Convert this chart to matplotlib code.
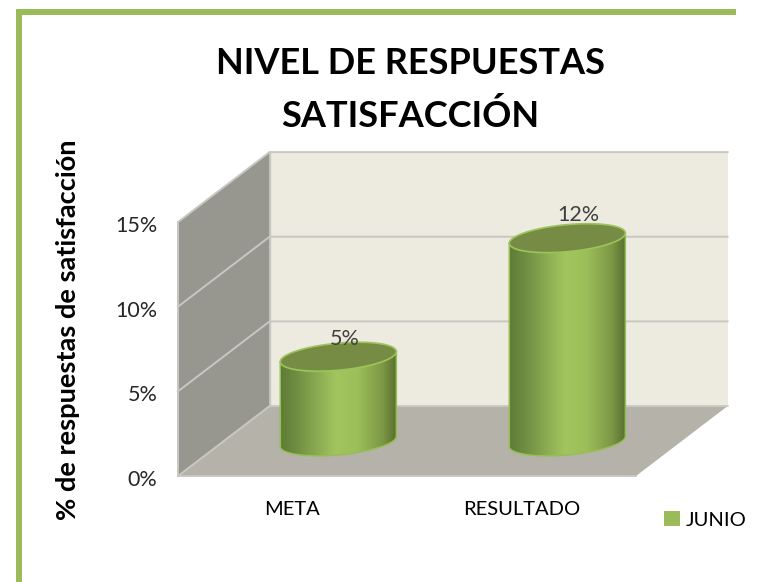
import numpy as np
import matplotlib
matplotlib.use('Agg')
import matplotlib.pyplot as plt
from matplotlib.colors import LinearSegmentedColormap
from matplotlib.patches import Polygon, Rectangle, Patch
from matplotlib.transforms import ScaledTranslation

plt.rcParams['font.family'] = ['Lato', 'DejaVu Sans']

categories = ['META', 'RESULTADO']
values = [5, 12]
value_labels = ['5%', '12%']
yticks = [0, 5, 10, 15]
ytick_labels = ['0%', '5%', '10%', '15%']
title = 'NIVEL DE RESPUESTAS\nSATISFACCIÓN'
ylabel = '% de respuestas de satisfacción'
series_name = 'JUNIO'

W, H = 763, 582
fig = plt.figure(figsize=(W/100, H/100), dpi=100, facecolor='white')

# frame of the slide, left and top only
for x0, y0, w, h in [(16, 0, 6, H-9), (16, H-15, 720, 6)]:
    fig.patches.append(Rectangle((x0/W, y0/H), w/W, h/H, transform=fig.transFigure,
                                 facecolor='#9bbb59', edgecolor='none'))

# axes is the front plane of the 3d box
ax = fig.add_axes([178/W, (H-476)/H, 458/W, 254/H])
ax.set_xlim(0, 2)
ax.set_ylim(0, 15)
ymax = 15
dx = 0.40    # depth of the box in data units
dy = 4.13

ax.add_patch(Polygon([(dx, dy), (2+dx, dy), (2+dx, ymax+dy), (dx, ymax+dy)], facecolor='#edebe0', edgecolor='none', clip_on=False, zorder=1))
ax.add_patch(Polygon([(0, 0), (dx, dy), (dx, ymax+dy), (0, ymax)], facecolor='#97978f', edgecolor='none', clip_on=False, zorder=1))
ax.add_patch(Polygon([(0, 0), (2, 0), (2+dx, dy), (dx, dy)], facecolor='#b5b2aa', edgecolor='none', clip_on=False, zorder=1))

for t in yticks:
    ax.plot([0, dx, 2+dx], [t, t+dy, t+dy], color='#c8c8c2', lw=1.4, clip_on=False, zorder=2)
ax.plot([0, 0], [0, ymax], color='#c8c8c2', lw=1.4, clip_on=False, zorder=2)
ax.plot([dx, dx], [dy, ymax+dy], color='#c8c8c2', lw=1.0, clip_on=False, zorder=2)
ax.plot([0, 2], [0, 0], color='#c8c8c2', lw=1.4, clip_on=False, zorder=2)

cyl = LinearSegmentedColormap.from_list('cyl', [(0, '#5f7c37'), (0.14, '#708e42'), (0.48, '#a2c55f'),
                                                (0.66, '#9dbf5a'), (0.88, '#7d9846'), (1, '#586f2f')])
grad = np.linspace(0, 1, 200).reshape(1, -1)
rx = 0.2535   # cylinder radius, x units
ry = 0.80     # ellipse half height
skew = 0.30   # tilt of the ellipse
t = np.linspace(0, 2*np.pi, 121)
label_lift = [0.45, 0.80]   # gap between bar top and its label

for i, v in enumerate(values):
    cx = i + 0.5 + dx/2
    y0 = dy/2 - 0.02
    ex = cx + rx*np.cos(t)
    ey = skew*np.cos(t) + ry*np.sin(t)
    # body = lower half of base + sides + top
    low = np.sin(t) <= 0
    order = np.argsort(ex[low])
    bx = ex[low][order]
    by = ey[low][order] + y0
    body_x = np.r_[bx, cx+rx, cx-rx]
    body_y = np.r_[by, y0+v+skew, y0+v-skew]
    body = Polygon(np.c_[body_x, body_y], facecolor='none', edgecolor='#97bd55', lw=1.1, clip_on=False, zorder=4)
    ax.add_patch(body)
    im = ax.imshow(grad, cmap=cyl, extent=[cx-rx, cx+rx, y0-1, y0+v+1], aspect='auto', zorder=3, clip_on=True)
    im.set_clip_path(body)
    ax.add_patch(Polygon(np.c_[ex, ey+y0+v], facecolor='#768c45', edgecolor='#9dc45a', lw=1.2, clip_on=False, zorder=5))
    ax.text(cx+(0.03 if i == 0 else 0.05), y0+v+label_lift[i], value_labels[i], ha='center', va='bottom', fontsize=15.5, color='#404040', zorder=6)

ax.set_xlim(0, 2)
ax.set_ylim(0, 15)
ax.set_xticks([0.5, 1.5])
ax.set_xticklabels(categories, fontsize=14.5, color='black')
ax.set_yticks(yticks)
ax.set_yticklabels(ytick_labels, fontsize=15.5, color='#262626')
ax.tick_params(axis='x', length=0, pad=18)
ax.tick_params(axis='y', length=0, pad=15)
shift = ScaledTranslation(0, -2/100, fig.dpi_scale_trans)
for lab in ax.get_yticklabels():
    lab.set_transform(lab.get_transform() + shift)
for s in ax.spines.values():
    s.set_visible(False)
ax.patch.set_visible(False)

fig.text(410/W, 1-90/H, title, ha='center', va='center', fontsize=26, fontweight='bold', color='black', linespacing=1.66)
fig.text(68/W, 1-330/H, ylabel, rotation=90, ha='center', va='center', fontsize=19.6, fontweight='bold', color='black')

leg = fig.legend(handles=[Patch(facecolor='#9bbb59', label=series_name)], loc='center left',
                 bbox_to_anchor=(660/W, 1-520/H), frameon=False, fontsize=14.5,
                 handlelength=0.78, handleheight=0.78, handletextpad=0.3, borderpad=0.2, borderaxespad=0)

fig.savefig('out.png', dpi=100)
